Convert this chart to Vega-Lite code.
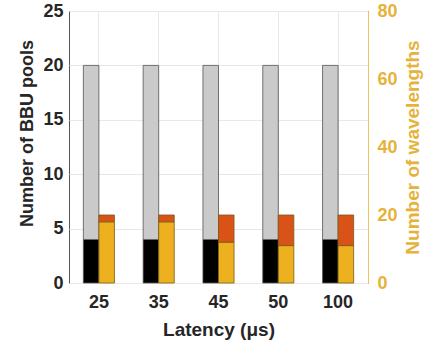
{
  "$schema": "https://vega.github.io/schema/vega-lite/v6.json",
  "width": 299,
  "height": 272,
  "autosize": {"type": "none"},
  "padding": {"left": 69, "top": 11, "right": 74, "bottom": 62},
  "background": "white",
  "config": {"view": {"stroke": "#555", "strokeWidth": 1}, "font": "Liberation Sans"},
  "data": {"values": [
    {"latency": "25", "side": "pools", "part": "black", "ord": 1, "value": 4},
    {"latency": "25", "side": "pools", "part": "gray", "ord": 2, "value": 16},
    {"latency": "25", "side": "wl", "part": "yellow", "ord": 1, "value": 18},
    {"latency": "25", "side": "wl", "part": "orange", "ord": 2, "value": 2},
    {"latency": "35", "side": "pools", "part": "black", "ord": 1, "value": 4},
    {"latency": "35", "side": "pools", "part": "gray", "ord": 2, "value": 16},
    {"latency": "35", "side": "wl", "part": "yellow", "ord": 1, "value": 18},
    {"latency": "35", "side": "wl", "part": "orange", "ord": 2, "value": 2},
    {"latency": "45", "side": "pools", "part": "black", "ord": 1, "value": 4},
    {"latency": "45", "side": "pools", "part": "gray", "ord": 2, "value": 16},
    {"latency": "45", "side": "wl", "part": "yellow", "ord": 1, "value": 12},
    {"latency": "45", "side": "wl", "part": "orange", "ord": 2, "value": 8},
    {"latency": "50", "side": "pools", "part": "black", "ord": 1, "value": 4},
    {"latency": "50", "side": "pools", "part": "gray", "ord": 2, "value": 16},
    {"latency": "50", "side": "wl", "part": "yellow", "ord": 1, "value": 11},
    {"latency": "50", "side": "wl", "part": "orange", "ord": 2, "value": 9},
    {"latency": "100", "side": "pools", "part": "black", "ord": 1, "value": 4},
    {"latency": "100", "side": "pools", "part": "gray", "ord": 2, "value": 16},
    {"latency": "100", "side": "wl", "part": "yellow", "ord": 1, "value": 11},
    {"latency": "100", "side": "wl", "part": "orange", "ord": 2, "value": 9}
  ]},
  "encoding": {
    "x": {
      "field": "latency", "type": "ordinal", "sort": ["25", "35", "45", "50", "100"],
      "scale": {"paddingInner": 0.48, "paddingOuter": 0.24},
      "axis": {
        "labelAngle": 0, "labelFontSize": 18, "labelFontWeight": "bold", "labelColor": "#262626",
        "labelPadding": 10, "ticks": false, "domain": false,
        "grid": true, "gridColor": "#e8e8e8", "bandPosition": 0.5,
        "title": "Latency (μs)", "titleFontSize": 19, "titleFontWeight": "bold", "titleColor": "#262626", "titlePadding": 9
      }
    },
    "xOffset": {"field": "side", "type": "nominal", "scale": {"domain": ["pools", "wl"], "paddingInner": 0, "paddingOuter": 0}},
    "color": {"field": "part", "type": "nominal", "scale": {"domain": ["black", "gray", "yellow", "orange"], "range": ["#000000", "#cacaca", "#edb120", "#d95319"]}, "legend": null},
    "order": {"field": "ord", "type": "quantitative"}
  },
  "layer": [
    {
      "transform": [{"filter": "datum.side === 'pools'"}],
      "mark": {"type": "bar", "stroke": "#555", "strokeWidth": 0.8},
      "encoding": {
        "y": {
          "field": "value", "type": "quantitative", "stack": "zero",
          "scale": {"domain": [0, 25], "nice": false},
          "axis": {
            "orient": "left", "values": [0, 5, 10, 15, 20, 25],
            "labelFontSize": 18, "labelFontWeight": "bold", "labelColor": "#262626", "labelPadding": 6,
            "ticks": false, "domain": false, "grid": true, "gridColor": "#e8e8e8",
            "title": "Number of BBU pools", "titleFontSize": 18, "titleFontWeight": "bold", "titleColor": "#262626", "titlePadding": 6,
            "titleY": 122
          }
        }
      }
    },
    {
      "transform": [{"filter": "datum.side === 'wl'"}],
      "mark": {"type": "bar", "stroke": "#7a5a10", "strokeWidth": 0.8},
      "encoding": {
        "y": {
          "field": "value", "type": "quantitative", "stack": "zero",
          "scale": {"domain": [0, 80], "nice": false},
          "axis": {
            "orient": "right", "values": [0, 20, 40, 60, 80],
            "labelFontSize": 18, "labelFontWeight": "bold", "labelColor": "#e6b33a", "labelPadding": 9,
            "ticks": false, "domain": true, "domainColor": "#edc560", "grid": false,
            "title": "Number of wavelengths", "titleFontSize": 19, "titleFontWeight": "bold", "titleColor": "#e6b33a", "titlePadding": 6,
            "titleAngle": 270, "titleBaseline": "top"
          }
        }
      }
    }
  ],
  "resolve": {"scale": {"y": "independent"}}
}
